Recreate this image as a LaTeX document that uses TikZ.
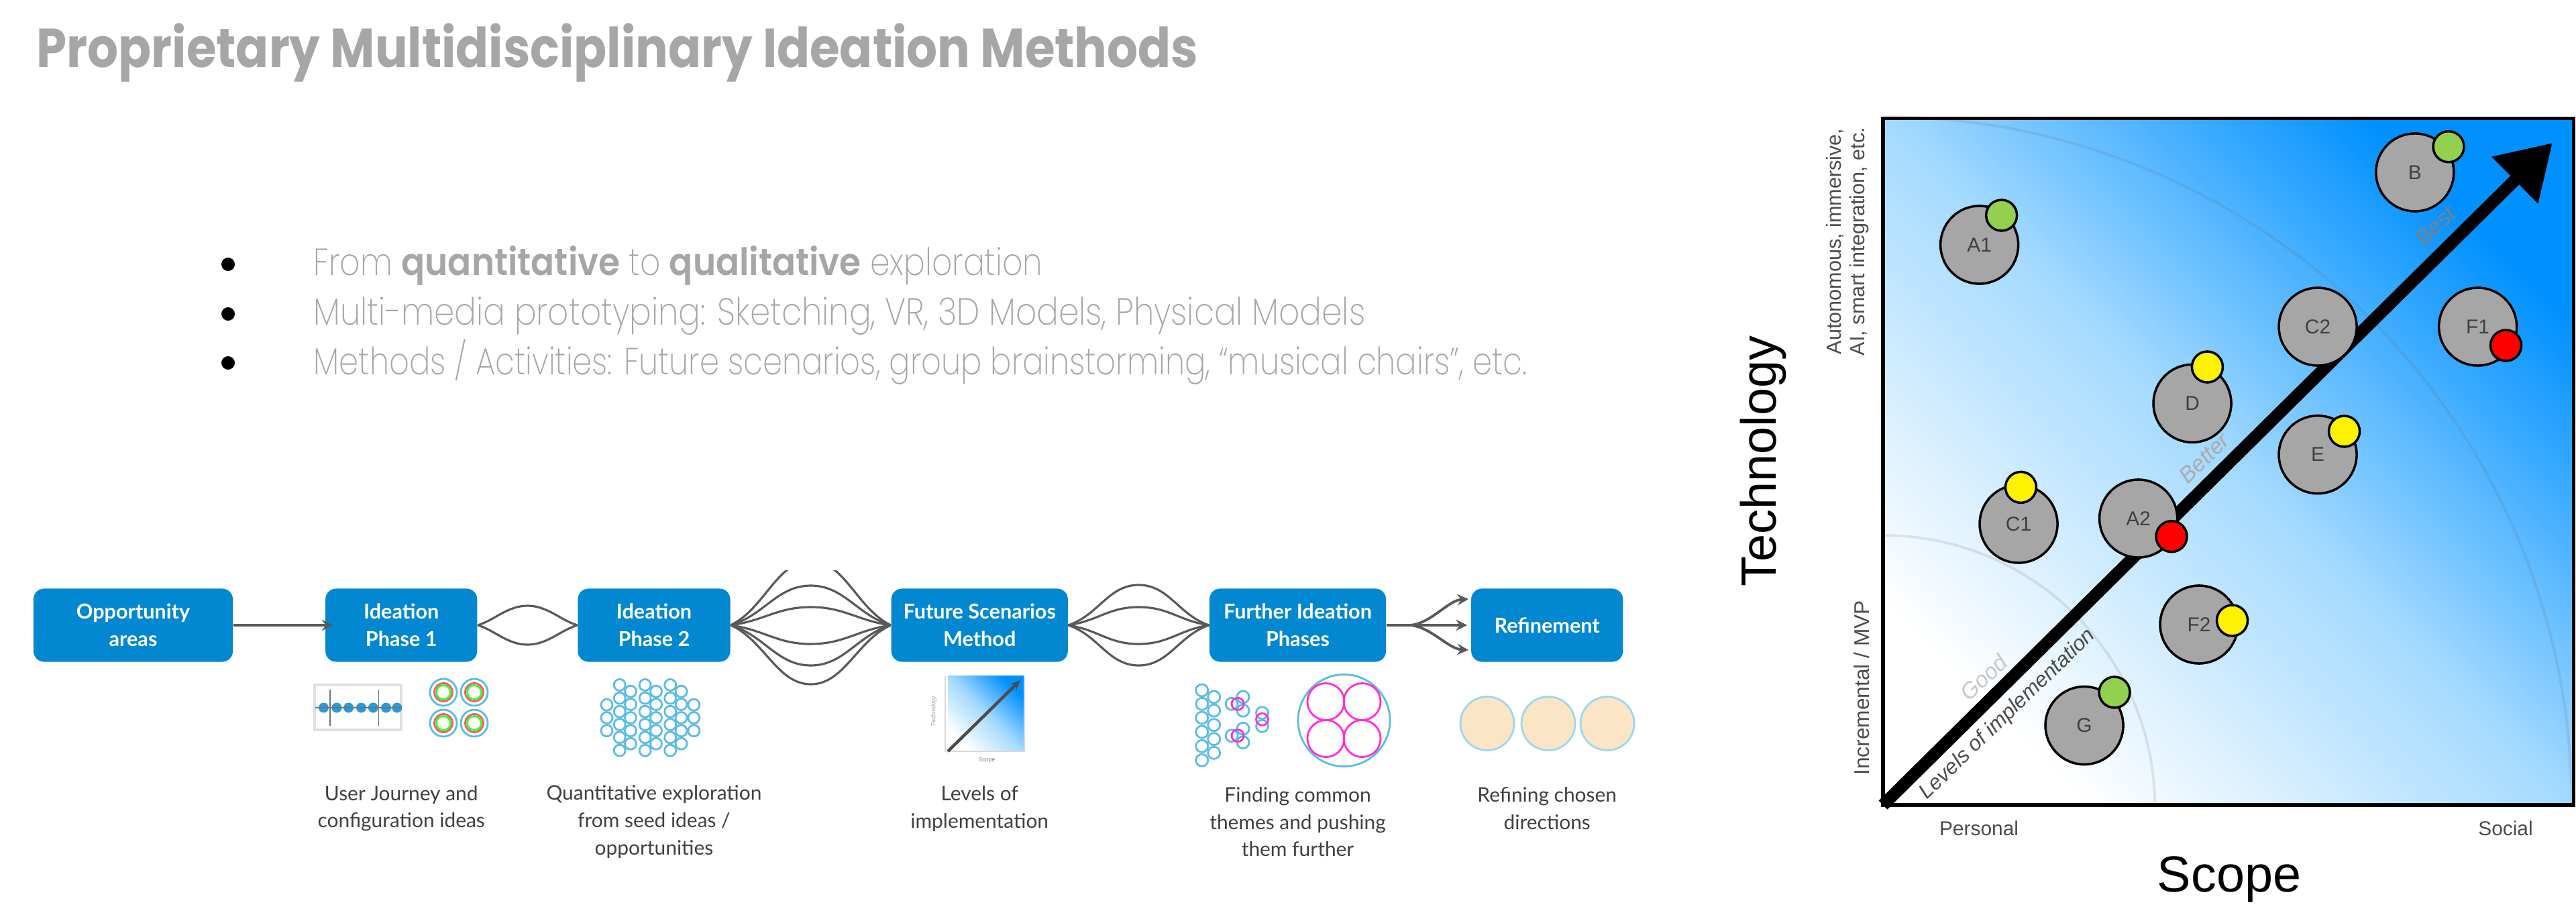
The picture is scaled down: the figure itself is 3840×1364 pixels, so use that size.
\documentclass[tikz,border=0pt]{standalone}
\usepackage{fontspec}
\usetikzlibrary{arrows, arrows.meta, calc}
\setmainfont{Liberation Sans}
\newfontfamily\titlefont[FakeStretch=0.882]{Poppins}
\newfontfamily\listfont[FakeStretch=0.84]{Poppins ExtraLight}
\newfontfamily\listbold[FakeStretch=0.92]{Poppins SemiBold}
\newfontfamily\flowfont{Lato}
\definecolor{boxblue}{HTML}{0288D1}
\definecolor{ringblue}{HTML}{5BBCE4}
\definecolor{ringpink}{HTML}{FF2EDC}
\definecolor{softgray}{HTML}{A6A6A6}
\definecolor{linegray}{HTML}{595959}
\definecolor{bubblegray}{HTML}{A6A6A6}
\definecolor{dotgreen}{HTML}{92D050}
\definecolor{chartblue}{HTML}{0090FF}
\definecolor{chartmid}{HTML}{A4DAFF}
\definecolor{cream}{HTML}{FBE5C6}
\tikzstyle{process} = [
    rectangle,
    rounded corners=4.5pt,
    minimum height=1.09cm,
    inner sep=0pt,
    align=center,
    fill=boxblue,
    text=white,
    font=\flowfont\bfseries\fontsize{8.7pt}{11.6pt}\selectfont
]
\tikzstyle{caption} = [
    align=center,
    inner sep=0pt,
    text=black!75,
    font=\flowfont\fontsize{8.5pt}{11.6pt}\selectfont
]
\tikzstyle{listitem} = [
    anchor=base west,
    inner sep=0pt,
    text=softgray,
    font=\listfont\fontsize{16pt}{19pt}\selectfont
]
\tikzstyle{listdot} = [circle, fill=black, inner sep=0pt, minimum size=0.2cm]
\tikzstyle{curve} = [line width=0.9pt, draw=linegray]
\tikzstyle{arrow} = [line width=1.1pt, draw=linegray, ->, >=stealth]
\tikzstyle{ring} = [line width=0.8pt, draw=ringblue]
\tikzstyle{pinkring} = [line width=0.8pt, draw=ringpink]
\tikzstyle{field} = [
    rectangle,
    inner sep=0pt,
    left color=white,
    right color=chartblue,
    middle color=chartmid,
    shading angle=135
]
\tikzstyle{bubble} = [
    circle,
    minimum size=1.16cm,
    inner sep=0pt,
    fill=bubblegray,
    draw=black,
    line width=1pt,
    text=black!75,
    font=\fontsize{8.5pt}{10pt}\selectfont
]
\tikzstyle{dot} = [circle, minimum size=0.46cm, inner sep=0pt, draw=black, line width=1pt]
\tikzstyle{axisnote} = [inner sep=0pt, align=center, text=black!70, font=\fontsize{8.7pt}{10.2pt}\selectfont]
\tikzstyle{level} = [inner sep=0pt, rotate=44, font=\itshape\fontsize{9.5pt}{11pt}\selectfont]

\begin{document}
\begin{tikzpicture}[x=0.01cm, y=-0.01cm, node distance=1.5cm]

\useasboundingbox (0,0) rectangle (3840,1364);

\node (title) [anchor=base west, inner sep=0pt, text=softgray, font=\titlefont\bfseries\fontsize{23.3pt}{28pt}\selectfont] at (54,101)
{Proprietary Multidisciplinary Ideation Methods};

\node (dota) [listdot] at (340,394) {};
\node (dotb) [listdot] at (340,468) {};
\node (dotc) [listdot] at (340,541) {};

\node (itema) [listitem] at (467,411)
{From {\listbold quantitative} to {\listbold qualitative} exploration};
\node (itemb) [listitem] at (467,485)
{\addfontfeature{FakeStretch=0.863}Multi-media prototyping: Sketching, VR, 3D Models, Physical Models};
\node (itemc) [listitem] at (467,558)
{\addfontfeature{FakeStretch=0.827}Methods / Activities: Future scenarios, group brainstorming, “musical chairs”, etc.};

\node (opportunity) [process, minimum width=2.97cm] at (198.5,932) {Opportunity\\areas};
\node (ideaone) [process, minimum width=2.26cm, right of=opportunity, xshift=2.495cm] {Ideation\\Phase 1};
\node (ideatwo) [process, minimum width=2.27cm, right of=ideaone, xshift=2.265cm] {Ideation\\Phase 2};
\node (future) [process, minimum width=2.63cm, right of=ideatwo, xshift=3.35cm] {Future Scenarios\\Method};
\node (further) [process, minimum width=2.63cm, right of=future, xshift=3.24cm] {Further Ideation\\Phases};
\node (refinement) [process, minimum width=2.26cm, right of=further, xshift=2.215cm] {Refinement};

\node (capone) [caption, below of=ideaone, yshift=-1.23cm] {User Journey and\\configuration ideas};
\node (captwo) [caption, below of=ideatwo, yshift=-1.43cm] {Quantitative exploration\\from seed ideas /\\opportunities};
\node (capthree) [caption, below of=future, yshift=-1.23cm] {Levels of\\implementation};
\node (capfour) [caption, below of=further, yshift=-1.43cm] {Finding common\\themes and pushing\\them further};
\node (capfive) [caption, below of=refinement, yshift=-1.23cm] {Refining chosen\\directions};

\draw [arrow, shorten >=-3.4pt] (opportunity) -- (ideaone);

\foreach \h in {-29,29}
\draw [curve] (ideaone.east) .. controls +(25,0.25*\h) and +(-30,0) .. ($(ideaone.east)!.5!(ideatwo.west)+(0,\h)$) .. controls +(30,0) and +(-25,0.25*\h) .. (ideatwo.west);

\begin{scope}
\clip (1088,850) rectangle (1328,1040);
\foreach \h in {-96,-59,-27,28,60,88}
\draw [curve] (ideatwo.east) .. controls +(50,0.25*\h) and +(-50,0) .. ($(ideatwo.east)!.5!(future.west)+(0,\h)$) .. controls +(50,0) and +(-50,0.25*\h) .. (future.west);
\end{scope}

\foreach \h in {-60,-27,28,60}
\draw [curve] (future.east) .. controls +(45,0.25*\h) and +(-45,0) .. ($(future.east)!.5!(further.west)+(0,\h)$) .. controls +(45,0) and +(-45,0.25*\h) .. (further.west);

\coordinate (fork) at (2103,932);
\coordinate (tipa) at (2189,893);
\coordinate (tipb) at (2187,932);
\coordinate (tipc) at (2189,969);
\draw [curve] (further.east) -- (fork);
\draw [arrow] (fork) .. controls +(30,-3) and +(-30,2) .. (tipa);
\draw [arrow] (fork) -- (tipb);
\draw [arrow] (fork) .. controls +(30,3) and +(-30,-2) .. (tipc);

\draw [black!12, line width=1pt] (469,1021) rectangle (598,1088);
\foreach \x in {482.4,502,519.6,538.4,556.3,575.5,591.8}
\fill [boxblue!85] (\x,1055) circle (7.5);
\draw [black!55, line width=0.5pt] (470,1055) -- (598,1055);
\draw [black!55, line width=0.5pt] (492,1028) -- (492,1082);
\draw [black!55, line width=0.5pt] (564.5,1028) -- (564.5,1082);

\foreach \x in {661,707}
\foreach \y in {1032,1078} {
\draw [ring] (\x,\y) circle (20);
\draw [red!65, line width=0.8pt] (\x,\y) circle (13.5);
\draw [green!80, line width=0.8pt] (\x,\y) circle (10.5);
}

\foreach \x/\ylist in {904.5/{1050.7,1070,1089.3},
    923.7/{1021,1040.7,1060.7,1080,1099.3,1118.7},
    940/{1030.7,1050,1070,1089.3,1108.7},
    961.6/{1021,1040.7,1060.7,1080,1099.3,1118.7},
    978/{1030.7,1050,1070,1089.3,1108.7},
    999.2/{1021,1040.7,1060.7,1080,1099.3,1118.7},
    1015.5/{1030.7,1050,1070,1089.3,1108.7},
    1034.3/{1050.7,1070,1089.3}}
\foreach \y in \ylist
\draw [ring] (\x,\y) circle (8.5);

\node (minifield) [field, minimum width=1.14cm, minimum height=1.12cm] at (1470,1064) {};
\draw [black!15, line width=0.8pt] (1527,1008) -- (1527,1120) -- (1409,1120) -- (1409,1008);
\draw [black!70, line width=1.3pt, -{Stealth[length=4pt, width=3.5pt]}] (1413,1120) -- (1521,1014);
\node (minitech) [rotate=90, inner sep=0pt, text=black!40, font=\fontsize{2.5pt}{3pt}\selectfont] at (1392,1060) {Technology};
\node (miniscope) [inner sep=0pt, text=black!50, font=\fontsize{2.5pt}{3pt}\selectfont] at (1471,1133) {Scope};

\foreach \y in {1029,1049.3,1070,1091,1112.3,1133.3}
\draw [ring] (1791.7,\y) circle (9);
\foreach \y in {1039,1059.3,1080.7,1101.7,1122.3}
\draw [ring] (1809.6,\y) circle (9);
\foreach \x/\y in {1836/1049.3,1853/1039,1853/1059.3,1836/1096.7,1853/1086.3,1853/1106.7,1881.5/1062.7,1881.5/1082.3}
\draw [ring] (\x,\y) circle (9);
\foreach \x/\y in {1845/1049.3,1845/1096.7,1881.5/1072.3}
\draw [pinkring] (\x,\y) circle (9);
\draw [ring] (2003.5,1074) circle (68.5);
\foreach \x in {1976.4,2030.5}
\foreach \y in {1046,1101}
\draw [pinkring] (\x,\y) circle (27.5);

\foreach \x in {2217,2308,2396}
\draw [fill=cream, draw=ringblue!60, line width=0.8pt] (\x,1078.5) circle (40);

\node (chart) [field, minimum width=10.295cm, minimum height=10.235cm] at (3321.75,688.25) {};
\draw [black!60, opacity=0.15, line width=1.1pt] (2807,798) arc [start angle=90, end angle=0, radius=4.05cm];
\draw [black!60, opacity=0.15, line width=1.1pt] (2807,174) arc [start angle=90, end angle=0, radius=10.26cm];
\draw [black, line width=1.5pt] (2807,176.5) rectangle (3836.5,1200);

\coordinate (origin) at (2807,1200);
\coordinate (peak) at (3805,213);
\draw [line width=5.2pt, -{Triangle[length=22.5pt, width=26.5pt]}] (origin) -- (peak);

\node (good) [level, text=black!22] at (2957,1010) {Good};
\node (better) [level, text=black!33] at (3286,683) {Better};
\node (best) [level, text=black!50] at (3631,337) {Best};
\node (levels) [level, text=black!70, font=\itshape\fontsize{9pt}{11pt}\selectfont] at (2993,1065) {Levels of implementation};

\node (aone) [bubble] at (2950.6,365) {A1};
\node (aonedot) [dot, fill=dotgreen] at (2983.6,321) {};
\node (b) [bubble] at (3599.8,257) {B};
\node (bdot) [dot, fill=dotgreen] at (3650,218.7) {};
\node (ctwo) [bubble] at (3455,487) {C2};
\node (fone) [bubble] at (3693.6,487) {F1};
\node (fonedot) [dot, fill=red] at (3735.5,515) {};
\node (d) [bubble] at (3268,601.4) {D};
\node (ddot) [dot, fill=yellow] at (3290.4,547) {};
\node (e) [bubble] at (3455,677.7) {E};
\node (edot) [dot, fill=yellow] at (3494.5,643) {};
\node (cone) [bubble] at (3009,781) {C1};
\node (conedot) [dot, fill=yellow] at (3012.4,726.4) {};
\node (atwo) [bubble] at (3187.6,773) {A2};
\node (atwodot) [dot, fill=red] at (3237,799.7) {};
\node (ftwo) [bubble] at (3278,931) {F2};
\node (ftwodot) [dot, fill=yellow] at (3327.5,925) {};
\node (g) [bubble] at (3107,1081.5) {G};
\node (gdot) [dot, fill=dotgreen] at (3152,1032) {};

\node (technology) [rotate=90, anchor=base, inner sep=0pt, font=\fontsize{21pt}{25pt}\selectfont] at (2647,687.5) {Technology};
\node (scope) [anchor=base, inner sep=0pt, font=\fontsize{21.5pt}{25pt}\selectfont] at (3323,1329) {Scope};
\node (high) [axisnote, rotate=90, anchor=south] at (2787,360) {Autonomous, immersive,\\AI, smart integration, etc.};
\node (low) [axisnote, rotate=90, anchor=south, font=\fontsize{9pt}{11pt}\selectfont] at (2787,1025.5) {Incremental / MVP};
\node (personal) [axisnote, anchor=base, font=\fontsize{8.5pt}{10pt}\selectfont] at (2950,1245) {Personal};
\node (social) [axisnote, anchor=base, font=\fontsize{8.5pt}{10pt}\selectfont] at (3735,1245) {Social};

\end{tikzpicture}
\end{document}
